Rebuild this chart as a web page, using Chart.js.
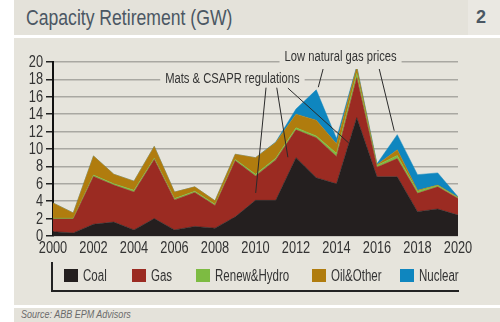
<!DOCTYPE html>
<html>
<head>
<meta charset="utf-8">
<script src="https://cdn.jsdelivr.net/npm/chart.js@4.4.1/dist/chart.umd.min.js"></script>
<style>
    body { margin: 0; width: 500px; height: 322px; background: #fff; position: relative; overflow: hidden;
           font-family: "Liberation Sans", Arial, sans-serif; }
    .narrow { display: inline-block; transform: scaleX(0.8); transform-origin: 0 50%; white-space: nowrap; }
    #titlebar { position: absolute; left: 14px; top: 0; width: 454px; height: 35px; background: #e4e2da; }
    #title { position: absolute; left: 12px; top: 5px; font-size: 22px; color: #4b5763; }
    #num { position: absolute; left: 468px; top: 0; width: 26px; height: 35px; padding-right: 6px; background: #eae8e2;
           color: #4b5763; font-weight: bold; font-size: 18px; line-height: 35px; text-align: center; }
    #panel { position: absolute; left: 14px; top: 38px; width: 486px; height: 267px; background: #e6e4dc; }
    #source { position: absolute; left: 14px; top: 308px; width: 486px; height: 14px; background: #e4e2da;
              font-style: italic; font-size: 10px; color: #6a6a6a; line-height: 14px; padding-left: 7px; box-sizing: border-box; }
    #chart { position: absolute; left: 0; top: 0; }
    #legend { position: absolute; left: 51px; top: 262px; width: 406px; height: 28px;
              border-left: 2px solid #222; border-bottom: 2px solid #222; }
    .item { position: absolute; top: 7px; font-size: 16px; color: #333; white-space: nowrap; line-height: 13px; }
    .item .sw { display: inline-block; width: 14px; height: 13px; vertical-align: top; margin-right: 5px; }
    .item .narrow { transform: scaleX(0.72); }
</style>
</head>
<body>
<div id="titlebar"><div id="title"><span class="narrow">Capacity Retirement (GW)</span></div></div>
<div id="num">2</div>
<div id="panel"></div>
<div id="source"><span class="narrow" style="transform: scaleX(0.9)">Source: ABB EPM Advisors</span></div>
<canvas id="chart" width="500" height="322"></canvas>
<div id="legend"></div>

<script>
// years on the x axis
const years = [2000, 2001, 2002, 2003, 2004, 2005, 2006, 2007, 2008, 2009, 2010,
               2011, 2012, 2013, 2014, 2015, 2016, 2017, 2018, 2019, 2020];

// retirements per type, GW (stacked bottom to top)
const coal    = [0.5, 0.35, 1.35, 1.6, 0.7, 2.0, 0.7, 1.1, 0.9, 2.2, 4.1, 4.1, 9.0, 6.7, 6.0, 13.6, 6.8, 6.8, 2.8, 3.1, 2.4];
const gas     = [1.45, 1.6, 5.5, 4.25, 4.35, 6.8, 3.45, 3.9, 2.6, 6.45, 2.8, 4.65, 3.2, 4.6, 3.15, 4.6, 1.1, 2.1, 2.1, 2.55, 1.9];
const renew   = [0.1, 0.1, 0.15, 0.15, 0.2, 0.15, 0.15, 0.15, 0.15, 0.15, 0.2, 0.2, 0.25, 0.2, 0.35, 0.5, 0.2, 0.35, 0.25, 0.15, 0.1];
const oil     = [1.75, 0.6, 2.2, 1.1, 1.05, 1.35, 0.75, 0.5, 0.4, 0.6, 1.9, 1.8, 1.55, 1.8, 1.1, 0.7, 0.1, 0.65, 0.1, 0.05, 0.05];
const nuclear = [0, 0, 0, 0, 0, 0, 0, 0, 0, 0, 0, 0.05, 0.6, 3.5, 0.6, 0.1, 0.1, 1.75, 1.8, 1.4, 0.05];

const seriesNames  = ['Coal', 'Gas', 'Renew&Hydro', 'Oil&Other', 'Nuclear'];
const seriesColors = ['#241f1f', '#9b2b22', '#7dbb42', '#b07c0e', '#0f86bf'];
const yTicks = [0, 2, 4, 6, 8, 10, 12, 14, 16, 18, 20];
const xTicks = [2000, 2002, 2004, 2006, 2008, 2010, 2012, 2014, 2016, 2018, 2020];

// callout labels and their leader lines, in data units
const notes = [
    { text: 'Mats & CSAPR regulations', x: 2008.86, y: 18, dy: 0 },
    { text: 'Low natural gas prices', x: 2014.2, y: 20, dy: -4.5 }
];
const leaders = [
    [2010.52, 17.05, 2010.01, 4.95],
    [2011.05, 17.05, 2011.6, 9.05],
    [2011.6, 17.0, 2014.6, 10.7],
    [2013.35, 19.3, 2013.1, 17.1],
    [2016.1, 19.3, 2016.85, 12.1]
];

const panelBg = '#e6e4dc';
const fontFam = '"Liberation Sans", Arial, sans-serif';

// the original uses a condensed face, so squeeze Liberation Sans horizontally
function narrowText(ctx, text, x, y, align, squeeze) {
    const w = ctx.measureText(text).width * squeeze;
    let left = x;
    if (align === 'center') left = x - w / 2;
    if (align === 'right') left = x - w;
    ctx.save();
    ctx.translate(left, y);
    ctx.scale(squeeze, 1);
    ctx.textAlign = 'left';
    ctx.fillText(text, 0, 0);
    ctx.restore();
    return w;
}

const allSeries = [coal, gas, renew, oil, nuclear];
const datasets = allSeries.map(function(values, i) {
    return {
        label: seriesNames[i],
        data: values.map(function(v, j) { return { x: years[j], y: v }; }),
        backgroundColor: seriesColors[i],
        borderColor: seriesColors[i],
        borderWidth: 0.5,
        pointRadius: 0,
        tension: 0,
        fill: i === 0 ? 'origin' : '-1'
    };
});

const labelPlugin = {
    id: 'narrowLabels',
    afterDatasetsDraw: function(chart) {
        const ctx = chart.ctx;
        const xs = chart.scales.x, ys = chart.scales.y;
        ctx.save();

        // tick labels
        ctx.font = '16px ' + fontFam;
        ctx.fillStyle = '#333';
        ctx.textBaseline = 'middle';
        yTicks.forEach(function(v) {
            narrowText(ctx, String(v), xs.left - 10, ys.getPixelForValue(v) + 0.5, 'right', 0.8);
        });
        ctx.textBaseline = 'top';
        xTicks.forEach(function(v) {
            narrowText(ctx, String(v), xs.getPixelForValue(v), ys.bottom + 5, 'center', 0.8);
        });

        // leader lines
        ctx.strokeStyle = '#2a2a2a';
        ctx.lineWidth = 1;
        leaders.forEach(function(l) {
            ctx.beginPath();
            ctx.moveTo(xs.getPixelForValue(l[0]), ys.getPixelForValue(l[1]));
            ctx.lineTo(xs.getPixelForValue(l[2]), ys.getPixelForValue(l[3]));
            ctx.stroke();
        });

        // callout texts, masking the gridline behind them
        ctx.font = '14px ' + fontFam;
        ctx.textBaseline = 'middle';
        notes.forEach(function(n) {
            const px = xs.getPixelForValue(n.x);
            const py = ys.getPixelForValue(n.y);
            const w = ctx.measureText(n.text).width * 0.8;
            ctx.fillStyle = panelBg;
            ctx.fillRect(px - w / 2 - 5, py - 7, w + 10, 14);
            ctx.fillStyle = '#333';
            narrowText(ctx, n.text, px, py + n.dy, 'center', 0.8);
        });
        ctx.restore();
    }
};

new Chart(document.getElementById('chart'), {
    type: 'line',
    data: { datasets: datasets },
    options: {
        responsive: false,
        animation: false,
        layout: { padding: { left: 0, right: 42, top: 62, bottom: 56 } },
        plugins: { legend: { display: false }, tooltip: { enabled: false } },
        scales: {
            x: {
                type: 'linear',
                min: years[0],
                max: years[years.length - 1],
                grid: { display: false },
                border: { display: false },
                ticks: { display: false, stepSize: 2 },
                afterFit: function(scale) { scale.height = 30; }
            },
            y: {
                stacked: true,
                min: 0,
                max: 20,
                afterBuildTicks: function(scale) { scale.ticks = yTicks.map(function(v) { return { value: v }; }); },
                grid: { color: '#a9a8a2', lineWidth: 1.5, tickColor: '#222', tickLength: 7 },
                border: { color: '#111', width: 2 },
                ticks: { display: false, autoSkip: false },
                afterFit: function(scale) { scale.width = 53; }
            }
        }
    },
    plugins: [labelPlugin]
});

// legend
const legendLeft = [11, 79, 143, 259, 347];
const legend = document.getElementById('legend');
seriesNames.forEach(function(name, i) {
    const item = document.createElement('div');
    item.className = 'item';
    item.style.left = legendLeft[i] + 'px';
    const sw = document.createElement('span');
    sw.className = 'sw';
    sw.style.background = seriesColors[i];
    const txt = document.createElement('span');
    txt.className = 'narrow';
    txt.textContent = name;
    item.appendChild(sw);
    item.appendChild(txt);
    legend.appendChild(item);
});
</script>
</body>
</html>
